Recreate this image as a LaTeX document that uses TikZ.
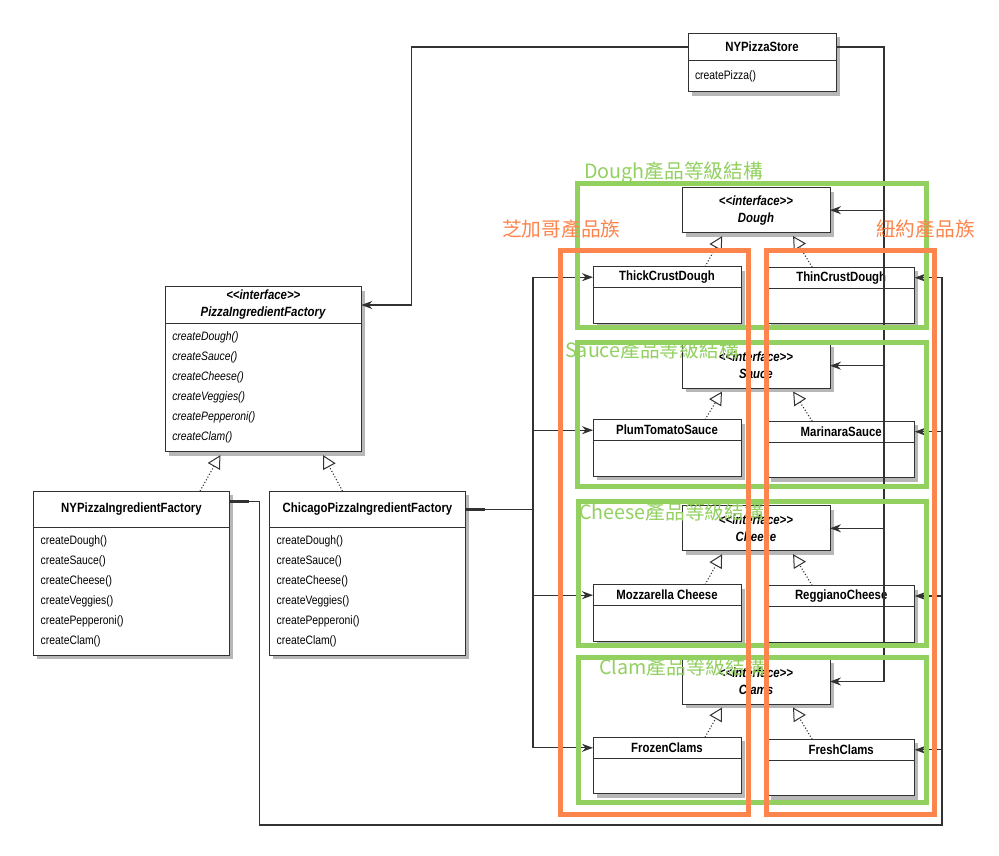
\documentclass[tikz,border=0pt]{standalone}
\usepackage{fontspec}
\newfontfamily\umlfont[FakeStretch=0.85]{Liberation Sans}
\newfontfamily\cjk{Noto Sans CJK TC}
\usepackage{tikz}
\usetikzlibrary{arrows.meta,positioning,shadows}
\definecolor{umlline}{RGB}{50,50,50}
\definecolor{levelgreen}{RGB}{146,208,96}
\definecolor{famorange}{RGB}{252,133,77}

\tikzset{
  umlbox/.style={draw=umlline, fill=white, line width=1pt, inner sep=0pt, outer sep=0pt,
    drop shadow={shadow xshift=3.5pt, shadow yshift=-4pt, opacity=0.4, fill=black!70}},
  classname/.style={umlbox, align=center, font=\umlfont\bfseries\fontsize{13.4}{17}\selectfont},
  methodlist/.style={umlbox, align=left, inner xsep=7pt, font=\umlfont\fontsize{12.2}{20}\selectfont},
  italiclist/.style={methodlist, font=\umlfont\itshape\fontsize{12.2}{20}\selectfont},
  emptybody/.style={umlbox, minimum height=35.5pt},
  assoc/.style={draw=umlline, line width=1.1pt, -{Stealth[length=11pt,width=8pt]}},
  realize/.style={draw=umlline, line width=1.1pt, dotted, shorten >=4pt,
    -{Triangle[open,length=13pt,width=14pt,line width=1pt]}},
  stub/.style={draw=umlline, line width=2.6pt},
  levelframe/.style={draw=levelgreen, line width=5pt},
  familyframe/.style={draw=famorange, line width=5pt},
  levellabel/.style={levelgreen, anchor=west, inner sep=0pt, font=\cjk\fontsize{19.7}{20}\selectfont},
  familylabel/.style={famorange, anchor=west, inner sep=0pt, font=\cjk\fontsize{19.7}{20}\selectfont}
}

\begin{document}
\begin{tikzpicture}[x=1pt, y=-1pt]
\path[use as bounding box, fill=white] (0,0) rectangle (999,856);

% store and abstract factory
\node[classname, minimum width=148pt, minimum height=27pt] (storetitle) at (762,47) {NYPizzaStore};
\node[methodlist, text width=134pt, minimum height=31.5pt, below=0pt of storetitle] (storebody) {createPizza()};

\node[classname, minimum width=196pt, minimum height=36.6pt] (piftitle) at (263.3,305)
  {\textit{<{}<interface>{}>}\\\textit{PizzaIngredientFactory}};
\node[italiclist, text width=182pt, minimum height=128.4pt, below=0pt of piftitle] (pifbody)
  {createDough()\\createSauce()\\createCheese()\\createVeggies()\\createPepperoni()\\createClam()};

\node[classname, minimum width=195.6pt, minimum height=36.3pt] (nyftitle) at (131.5,509.2) {NYPizzaIngredientFactory};
\node[methodlist, text width=181.6pt, minimum height=127.7pt, below=0pt of nyftitle] (nyfbody)
  {createDough()\\createSauce()\\createCheese()\\createVeggies()\\createPepperoni()\\createClam()};

\node[classname, minimum width=195.6pt, minimum height=36.3pt] (chftitle) at (367.5,509.2) {ChicagoPizzaIngredientFactory};
\node[methodlist, text width=181.6pt, minimum height=127.7pt, below=0pt of chftitle] (chfbody)
  {createDough()\\createSauce()\\createCheese()\\createVeggies()\\createPepperoni()\\createClam()};

% product interfaces
\node[classname, minimum width=148pt, minimum height=45pt] (dough) at (756,210.2) {\textit{<{}<interface>{}>}\\\textit{Dough}};
\node[classname, minimum width=148pt, minimum height=45pt] (sauce) at (756,365.7) {\textit{<{}<interface>{}>}\\\textit{Sauce}};
\node[classname, minimum width=148pt, minimum height=45pt] (cheese) at (756,528.3) {\textit{<{}<interface>{}>}\\\textit{Cheese}};
\node[classname, minimum width=148pt, minimum height=45pt] (clams) at (756,681.5) {\textit{<{}<interface>{}>}\\\textit{Clams}};

% chicago products
\node[classname, minimum width=148pt, minimum height=21pt] (thick) at (667,277.2) {ThickCrustDough};
\node[emptybody, minimum width=148pt, below=0pt of thick] (thickbody) {};
\node[classname, minimum width=148pt, minimum height=21pt] (plum) at (667,430.2) {PlumTomatoSauce};
\node[emptybody, minimum width=148pt, below=0pt of plum] (plumbody) {};
\node[classname, minimum width=148pt, minimum height=21pt] (mozz) at (667,595.2) {Mozzarella Cheese};
\node[emptybody, minimum width=148pt, below=0pt of mozz] (mozzbody) {};
\node[classname, minimum width=148pt, minimum height=21pt] (frozen) at (667,747.8) {FrozenClams};
\node[emptybody, minimum width=148pt, below=0pt of frozen] (frozenbody) {};

% new york products
\node[classname, minimum width=147pt, minimum height=21pt] (thin) at (841.2,277.7) {ThinCrustDough};
\node[emptybody, minimum width=147pt, below=0pt of thin] (thinbody) {};
\node[classname, minimum width=147pt, minimum height=21pt] (marinara) at (841.2,431.7) {MarinaraSauce};
\node[emptybody, minimum width=147pt, below=0pt of marinara] (marinarabody) {};
\node[classname, minimum width=147pt, minimum height=21pt] (reggiano) at (841.2,596) {ReggianoCheese};
\node[emptybody, minimum width=147pt, below=0pt of reggiano] (reggianobody) {};
\node[classname, minimum width=147pt, minimum height=21pt] (fresh) at (841.2,749.8) {FreshClams};
\node[emptybody, minimum width=147pt, below=0pt of fresh] (freshbody) {};

% associations
\draw[assoc] (storetitle.west) -| ([xshift=50pt]piftitle.east) -- (piftitle.east);
\draw[stub] (storetitle.east) -- ++(18,0);
\draw[assoc] (storetitle.east) -| ([xshift=54pt]clams.east) -- (clams.east);
\foreach \iface in {dough,sauce,cheese}
  \draw[assoc] ([xshift=54pt]\iface.east) -- (\iface.east);

\draw[stub] (chftitle.east) -- ++(20,0);
\draw[assoc] (chftitle.east) -| ([xshift=-60pt]thick.west) -- (thick.west);
\draw[assoc] (chftitle.east) -| ([xshift=-60pt]frozen.west) -- (frozen.west);
\foreach \cls in {plum,mozz}
  \draw[assoc] ([xshift=-60pt]\cls.west) -- (\cls.west);

\coordinate (nycorner) at (942,825);
\draw[stub] ([yshift=8pt]nyftitle.east) -- ++(20,0);
\draw[assoc] ([yshift=8pt]nyftitle.east) -- ++(30,0) |- (nycorner) |- (thin.east);
\foreach \cls in {marinara,reggiano,fresh}
  \draw[assoc] (nycorner |- \cls.east) -- (\cls.east);

% realizations
\draw[realize] ([xshift=68.5pt]nyftitle.north) -- ([xshift=-41pt]pifbody.south);
\draw[realize] ([xshift=-25pt]chftitle.north) -- ([xshift=58pt]pifbody.south);
\foreach \cls/\iface in {thick/dough,plum/sauce,mozz/cheese,frozen/clams}
  \draw[realize] ([xshift=38pt]\cls.north) -- ([xshift=-32pt]\iface.south);
\foreach \cls/\iface in {thin/dough,marinara/sauce,reggiano/cheese,fresh/clams}
  \draw[realize] ([xshift=-29pt]\cls.north) -- ([xshift=35pt]\iface.south);

% product levels
\draw[levelframe] (577.7,183.3) rectangle (926,327.7);
\draw[levelframe] (577.7,342) rectangle (926,486);
\draw[levelframe] (578.3,501.3) rectangle (926.7,645.3);
\draw[levelframe] (578.6,657.3) rectangle (926.5,802.3);
\node[levellabel] (doughlevel) at (584,173) {Dough產品等級結構};
\node[levellabel] (saucelevel) at (565,350) {Sauce產品等級結構};
\node[levellabel] (cheeselevel) at (579,512) {Cheese產品等級結構};
\node[levellabel] (clamlevel) at (599,667) {Clam產品等級結構};

% product families
\draw[familyframe] (560,250) rectangle (748.4,814.3);
\draw[familyframe] (766,250) rectangle (934.5,814.3);
\node[familylabel] (chicagofamily) at (502,229) {芝加哥產品族};
\node[familylabel] (nyfamily) at (876,229) {紐約產品族};
\end{tikzpicture}
\end{document}
